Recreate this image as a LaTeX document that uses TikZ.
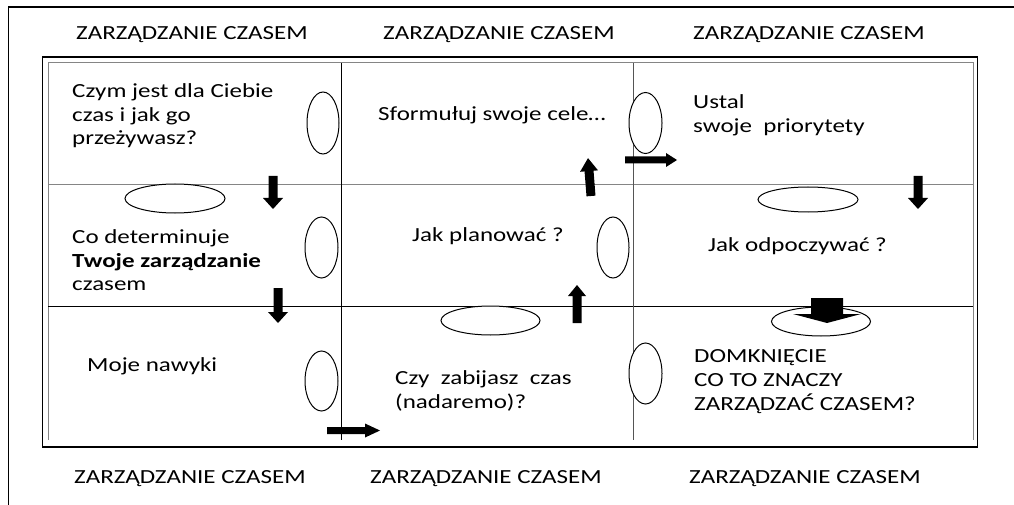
\documentclass[tikz,border=0pt]{standalone}
\usepackage{fontspec}
\setmainfont{Carlito}[FakeStretch=1.25]
\usetikzlibrary{shapes.geometric}
\definecolor{lightrule}{HTML}{858585}
\definecolor{midrule}{HTML}{555555}

% filled block arrow: start x, start y, angle, length, shaft width, head width, head length
\newcommand{\blockarrow}[7]{%
  \fill[shift={(#1,#2)},rotate=#3]
    (0,-#5/2) -- ({#4-#7},-#5/2) -- ({#4-#7},-#6/2) -- (#4,0)
    -- ({#4-#7},#6/2) -- ({#4-#7},#5/2) -- (0,#5/2) -- cycle;}

\begin{document}
\begin{tikzpicture}[x=1pt,y=-1pt,
  hdr/.style={anchor=base west, inner sep=0pt, font=\fontsize{20}{24}\selectfont},
  cell/.style={anchor=base west, inner sep=0pt, align=left, font=\fontsize{20}{23.6}\selectfont},
  oval/.style={ellipse, draw, line width=1pt, fill=white, inner sep=0pt}]
\fill[white] (0,0) rectangle (1014,505);
\useasboundingbox (0,0) rectangle (1014,505);

% page frame
\draw[line width=1.2pt] (1014,7) -- (8.5,7) -- (8.5,505);

% table: double outer border
\draw[line width=1.5pt] (42.5,57) rectangle (977.5,447);
\draw[lightrule, line width=1pt] (48,440) -- (48,63) -- (973,63) -- (973,440);

% row and column rules
\draw[lightrule, line width=1pt] (48,185) -- (973,185);
\draw[line width=1pt] (48,306) -- (973,306);
\draw[line width=1pt] (341,63) -- (341,440);
\draw[midrule, line width=1pt] (633,63) -- (633,440);

% headers
\node[hdr] (h1) at (76,40) {ZARZĄDZANIE CZASEM};
\node[hdr] (h2) at (383,40) {ZARZĄDZANIE CZASEM};
\node[hdr] (h3) at (693,40) {ZARZĄDZANIE CZASEM};
\node[hdr] (h4) at (74,483) {ZARZĄDZANIE CZASEM};
\node[hdr] (h5) at (370,483) {ZARZĄDZANIE CZASEM};
\node[hdr] (h6) at (689,483) {ZARZĄDZANIE CZASEM};

% ellipses
\node[oval, minimum width=32, minimum height=62] (e11) at (323,123) {};
\node[oval, minimum width=33, minimum height=61] (e12) at (645.5,123) {};
\node[oval, minimum width=100, minimum height=29] (e21t) at (175,198.5) {};
\node[oval, minimum width=33, minimum height=61] (e21) at (321.5,247.5) {};
\node[oval, minimum width=32, minimum height=61] (e22) at (613,247.5) {};
\node[oval, minimum width=100, minimum height=25] (e23t) at (808,199.5) {};
\node[oval, minimum width=33, minimum height=60] (e31) at (321.5,381) {};
\node[oval, minimum width=99, minimum height=29] (e32t) at (490.5,320.5) {};
\node[oval, minimum width=33, minimum height=61] (e33) at (645.5,373.5) {};
\node[oval, minimum width=99, minimum height=29] (e33t) at (821,321.5) {};

% cell texts (anchored on the baseline of the last line)
\node[cell] (t11) at (72,145) {Czym jest dla Ciebie\\czas i jak go\\przeżywasz?};
\node[cell] (t12) at (378,120.7) {Sformułuj swoje cele…};
\node[cell] (t13) at (693,132.3) {Ustal\\swoje\ \ priorytety};
\node[cell] (t21) at (72,290.7) {Co determinuje\\\textbf{Twoje zarządzanie}\\czasem};
\node[cell] (t22) at (412,241.7) {Jak planować ?};
\node[cell] (t23) at (708,251) {Jak odpoczywać ?};
\node[cell] (t31) at (87,371.7) {Moje nawyki};
\node[cell] (t32) at (395,408.3) {Czy\ \ zabijasz\ \ czas\\(nadaremo)?};
\node[cell] (t33) at (694,410) {DOMKNIĘCIE\\CO TO ZNACZY\\ZARZĄDZAĆ CZASEM?};

% block arrows
\blockarrow{273}{176}{-90}{33}{9}{20}{11}
\blockarrow{278}{288}{-90}{35}{9}{20}{11}
\blockarrow{327}{430.5}{0}{53}{7}{14}{15}
\blockarrow{577}{323}{90}{38}{9}{18}{11}
\blockarrow{591}{196}{94.5}{38}{9}{18}{13}
\blockarrow{625}{160}{0}{52}{7}{14}{11}
\blockarrow{918}{176}{-90}{33}{9}{20}{11}
\blockarrow{827}{298}{-90}{25}{32}{68}{9}
\end{tikzpicture}
\end{document}
